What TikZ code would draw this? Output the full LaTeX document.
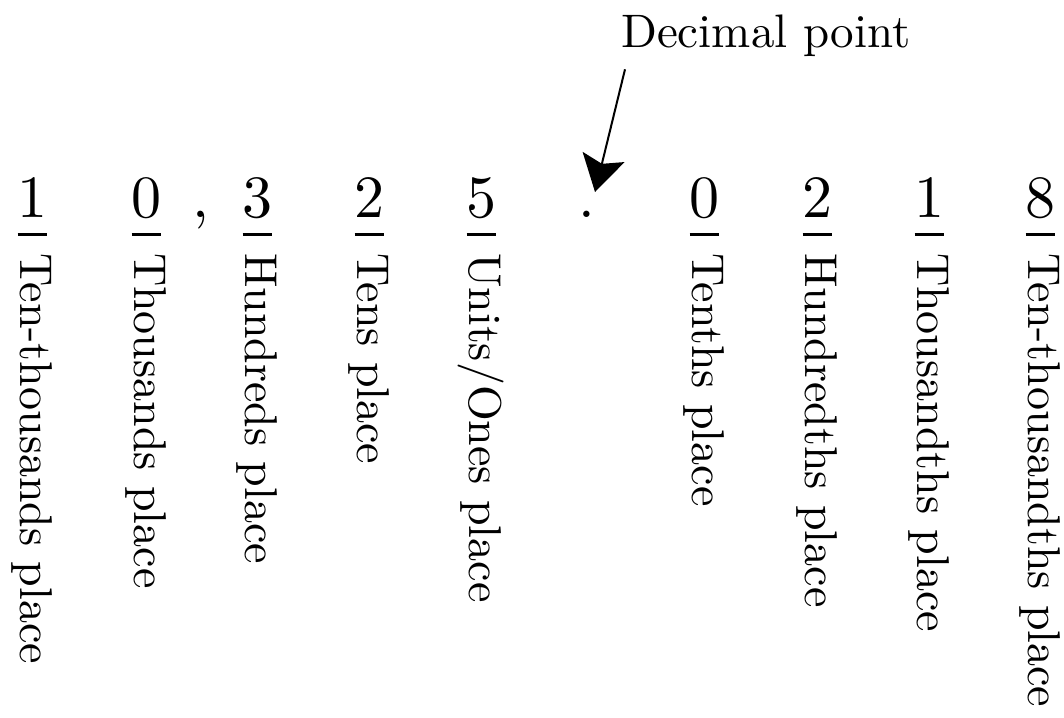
\documentclass[tikz,border=0pt]{standalone}
\usepackage{fontspec}
\setmainfont{lmroman10-regular}[Extension=.otf]
\usetikzlibrary{arrows.meta}

\tikzset{
  digit/.style={inner sep=0pt, anchor=base, font=\fontsize{60}{60}\selectfont},
  place/.style={inner sep=0pt, anchor=base west, rotate=-90, font=\fontsize{46}{46}\selectfont},
  tick/.style={line width=3.5pt},
  pointer/.style={line width=2pt, -{Stealth[length=36pt, width=43pt, inset=7pt]}},
}

\begin{document}
\begin{tikzpicture}[x=1pt, y=-1pt]
  \useasboundingbox (0,0) rectangle (1064,717);

  % digits of 10,325.0218
  \foreach \name/\x/\d in {d1/32/1, d2/146/0, d3/257/3, d4/369/2, d5/481/5,
                           d6/704/0, d7/817/2, d8/929/1, d9/1040/8} {
    \node[digit] (\name) at (\x,217) {\d};
  }
  \node[digit] (comma) at (201,217) {,};
  \node[digit] (dot) at (587,217) {.};

  % place names, one column under each digit
  \foreach \name/\x/\label in {
      d1/32/{Ten-thousands place}, d2/146/{Thousands place}, d3/257/{Hundreds place},
      d4/369/{Tens place}, d5/481/{Units/Ones place}, d6/704/{Tenths place},
      d7/817/{Hundredths place}, d8/929/{Thousandths place}, d9/1040/{Ten-thousandths place}} {
    \draw[tick] (\x-14.5,234.5) -- (\x+14.5,234.5);
    \node[place] (\name-label) at (\x-11.5,253) {\label};
  }

  % caption with its arrow to the decimal point
  \node[inner sep=0pt, anchor=base west, font=\fontsize{47}{47}\selectfont]
    (dec) at (621,48) {Decimal point};
  \coordinate (tip) at (595,192);
  \draw[pointer] ([xshift=4pt, yshift=-12pt]dec.south west) -- (tip);
\end{tikzpicture}
\end{document}
